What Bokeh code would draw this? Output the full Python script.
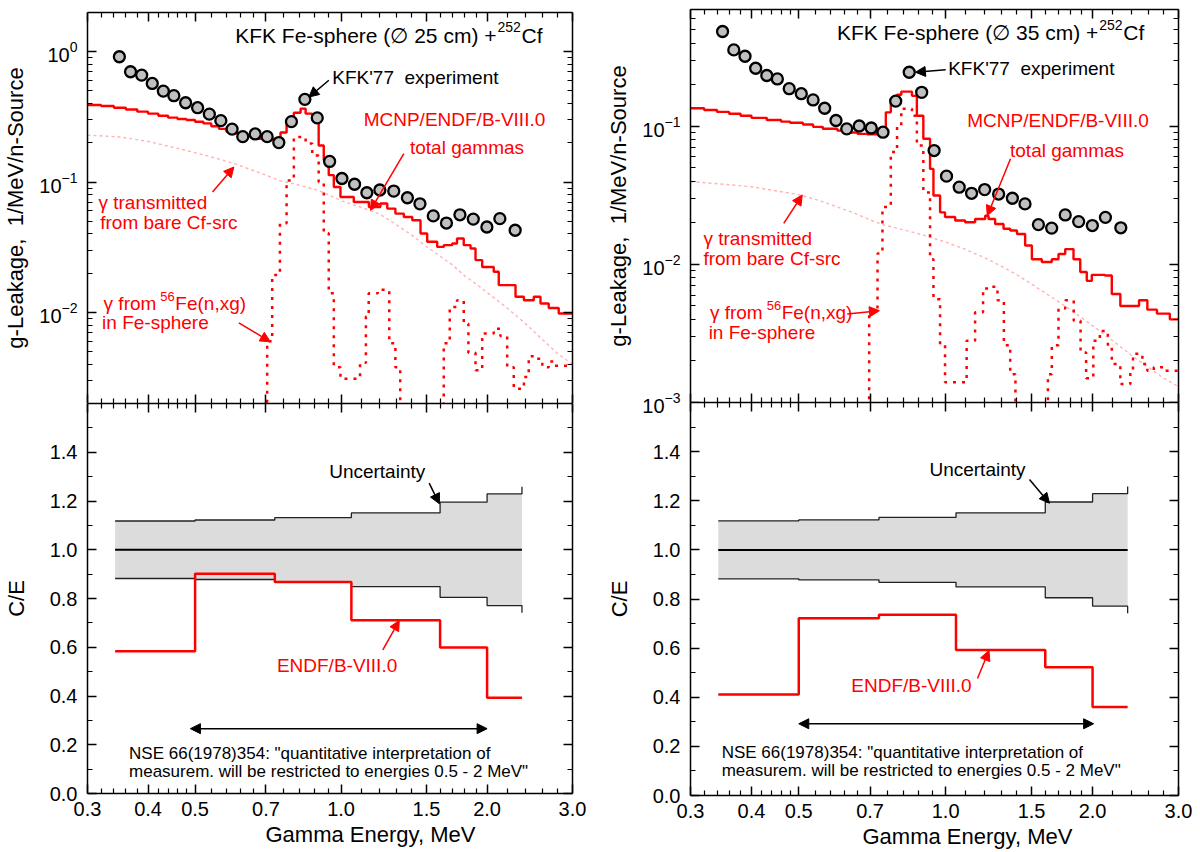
import math
from bokeh.plotting import figure
from bokeh.layouts import row, column
from bokeh.models import (LogAxis, LinearAxis, FixedTicker, PrintfTickFormatter,
                          Label, Arrow, NormalHead, Title)
from bokeh.embed import file_html
from bokeh.resources import INLINE

FONT = "Liberation Sans"
RED = "#ff0000"

# ---------------- data ----------------
# experimental points (KFK'77)
E_EXP = [0.349, 0.368, 0.388, 0.408, 0.430, 0.452, 0.478, 0.506, 0.535, 0.565,
         0.596, 0.627, 0.665, 0.704, 0.744, 0.790, 0.842, 0.893, 0.947, 1.004,
         1.066, 1.130, 1.202, 1.284, 1.370, 1.454, 1.549, 1.649, 1.758, 1.873,
         1.998, 2.125, 2.285]
EXP_25 = [0.915, 0.702, 0.662, 0.571, 0.499, 0.460, 0.406, 0.372, 0.332, 0.296,
          0.255, 0.223, 0.234, 0.223, 0.201, 0.291, 0.431, 0.311, 0.144, 0.1065,
          0.0962, 0.0828, 0.0869, 0.0853, 0.0758, 0.0681, 0.0550, 0.0485, 0.0561, 0.0520,
          0.0452, 0.0524, 0.0427]
EXP_35 = [0.485, 0.357, 0.321, 0.263, 0.233, 0.220, 0.187, 0.172, 0.155, 0.135,
          0.110, 0.0957, 0.1004, 0.0971, 0.0905, 0.152, 0.246, 0.176, 0.0667, 0.0435,
          0.0362, 0.0327, 0.0348, 0.0323, 0.0301, 0.0274, 0.0194, 0.0183, 0.0228, 0.0204,
          0.0191, 0.0219, 0.0184]

# MCNP total gammas, 25 cm sphere (bin edges, bin values)
TOT25_EDGES = [0.30, 0.32, 0.34, 0.36, 0.38, 0.40, 0.42, 0.44, 0.46, 0.48,
               0.50, 0.52, 0.54, 0.56, 0.58, 0.60, 0.63, 0.66, 0.69, 0.72,
               0.75, 0.772, 0.799, 0.825, 0.845, 0.872, 0.899, 0.921, 0.943, 0.966,
               0.997, 1.062, 1.141, 1.205, 1.245, 1.294, 1.347, 1.402, 1.458, 1.505,
               1.578, 1.628, 1.695, 1.734, 1.79, 1.849, 1.893, 1.954, 2.064, 2.114,
               2.289, 2.382, 2.496, 2.577, 2.68, 2.81, 3.0]
TOT25_VALS = [0.390, 0.383, 0.372, 0.360, 0.347, 0.335, 0.323, 0.312, 0.305, 0.299,
              0.290, 0.282, 0.268, 0.256, 0.244, 0.237, 0.225, 0.215, 0.210, 0.212,
              0.240, 0.300, 0.340, 0.366, 0.335, 0.297, 0.191, 0.147, 0.113, 0.0917,
              0.0769, 0.0704, 0.0644, 0.0684, 0.0626, 0.0573, 0.0540, 0.0510, 0.0403, 0.0348,
              0.0318, 0.0328, 0.0338, 0.0369, 0.0328, 0.0309, 0.0252, 0.0223, 0.0205, 0.0162,
              0.0132, 0.0124, 0.0132, 0.0117, 0.0108, 0.0098]

# gammas from 56Fe(n,xg), 25 cm sphere
FE25_EDGES = [0.672, 0.704, 0.721, 0.748, 0.772, 0.799, 0.825, 0.845, 0.872, 0.899,
              0.921, 0.943, 0.966, 0.997, 1.094, 1.125, 1.14, 1.19, 1.257, 1.294,
              1.324, 1.628, 1.675, 1.734, 1.79, 1.83, 1.893, 1.954, 2.064, 2.13,
              2.20, 2.27, 2.382, 2.437, 2.53, 2.60, 2.68, 2.76, 3.0]
FE25_VALS = [0.0001, 0.0060, 0.0194, 0.0483, 0.103, 0.222, 0.222, 0.198, 0.160, 0.100,
             0.0405, 0.014, 0.0038, 0.0031, 0.0041, 0.0093, 0.014, 0.0149, 0.0058, 0.0038,
             0.0001, 0.0058, 0.011, 0.0124, 0.0082, 0.0049, 0.0036, 0.0069, 0.0075, 0.0066,
             0.0038, 0.0026, 0.0032, 0.0046, 0.0044, 0.0038, 0.0042, 0.0039]

# MCNP total gammas, 35 cm sphere
TOT35_EDGES = [0.30, 0.32, 0.34, 0.36, 0.38, 0.40, 0.43, 0.46, 0.48, 0.51,
               0.535, 0.56, 0.60, 0.63, 0.66, 0.69, 0.725, 0.754, 0.772, 0.795,
               0.811, 0.853, 0.873, 0.90, 0.929, 0.944, 0.974, 0.997, 1.046, 1.096,
               1.149, 1.205, 1.224, 1.263, 1.314, 1.356, 1.40, 1.455, 1.502, 1.574,
               1.65, 1.703, 1.758, 1.828, 1.887, 1.946, 1.993, 2.12, 2.19, 2.28,
               2.49, 2.59, 2.71, 2.88, 3.0]
TOT35_VALS = [0.135, 0.131, 0.127, 0.123, 0.119, 0.115, 0.111, 0.108, 0.106, 0.103,
              0.099, 0.096, 0.093, 0.090, 0.088, 0.0875, 0.091, 0.126, 0.158, 0.169,
              0.178, 0.166, 0.119, 0.0811, 0.0491, 0.0315, 0.0238, 0.022, 0.0208, 0.0202,
              0.0213, 0.0225, 0.0213, 0.0196, 0.0181, 0.0176, 0.0166, 0.0137, 0.0109, 0.0104,
              0.0109, 0.0119, 0.0129, 0.0109, 0.0088, 0.0076, 0.0084, 0.0083, 0.0061, 0.0050,
              0.0055, 0.0047, 0.0044, 0.0040]

# gammas from 56Fe(n,xg), 35 cm sphere
FE35_EDGES = [0.66, 0.697, 0.725, 0.742, 0.772, 0.795, 0.811, 0.853, 0.873, 0.90,
              0.929, 0.944, 0.974, 0.997, 1.104, 1.149, 1.193, 1.24, 1.277, 1.316,
              1.356, 1.39, 1.62, 1.65, 1.703, 1.758, 1.83, 1.89, 1.94, 2.007,
              2.07, 2.15, 2.19, 2.28, 2.39, 2.42, 2.53, 2.59, 2.67, 2.79, 3.0]
FE35_VALS = [0.0001, 0.0045, 0.012, 0.026, 0.065, 0.101, 0.134, 0.119, 0.0724, 0.0332,
             0.0109, 0.0056, 0.0026, 0.0014, 0.0028, 0.0045, 0.0067, 0.0069, 0.0055, 0.0026,
             0.0016, 0.0001, 0.0016, 0.0026, 0.0048, 0.0055, 0.0039, 0.0023, 0.0015, 0.0028,
             0.0033, 0.0025, 0.0019, 0.00136, 0.0017, 0.00225, 0.0019, 0.0017, 0.0018, 0.0017]

# gammas transmitted from bare Cf source
CF_E = [0.30, 0.35, 0.40, 0.45, 0.50, 0.55, 0.60, 0.65, 0.70, 0.75,
        0.80, 0.90, 1.0, 1.1, 1.2, 1.3, 1.4, 1.5, 1.6, 1.7,
        1.8, 1.9, 2.0, 2.2, 2.4, 2.6, 2.8, 3.0]
CF_25 = [0.229, 0.222, 0.205, 0.185, 0.168, 0.153, 0.139, 0.125, 0.113, 0.102,
         0.097, 0.086, 0.072, 0.064, 0.057, 0.047, 0.039, 0.032, 0.027, 0.023,
         0.019, 0.0165, 0.0142, 0.0108, 0.0082, 0.0062, 0.0048, 0.0040]
CF_35 = [0.0398, 0.038, 0.0365, 0.034, 0.032, 0.029, 0.026, 0.0235, 0.021, 0.0192,
         0.0182, 0.0163, 0.0145, 0.0128, 0.0112, 0.0097, 0.0084, 0.0072, 0.0062, 0.0054,
         0.0047, 0.0041, 0.0036, 0.0028, 0.0022, 0.0018, 0.0015, 0.0013]

# C/E panel
CE_EDGES = [0.342, 0.5, 0.73, 1.05, 1.6, 2.0, 2.36]
UNC = [0.118, 0.122, 0.132, 0.151, 0.195, 0.229]
UNC_END = 0.258
CE_25 = [0.584, 0.902, 0.868, 0.711, 0.599, 0.393]
CE_35 = [0.411, 0.722, 0.7355, 0.592, 0.522, 0.360]

X_TICKS = [0.3, 0.4, 0.5, 0.7, 1.0, 1.5, 2.0, 3.0]
X_MINOR = [0.32, 0.34, 0.36, 0.38, 0.42, 0.44, 0.46, 0.48, 0.54, 0.58, 0.62, 0.66,
           0.76, 0.82, 0.88, 0.94, 1.1, 1.2, 1.3, 1.4, 1.6, 1.7, 1.8, 1.9,
           2.2, 2.4, 2.6, 2.8]
CE_TICKS = [0.0, 0.2, 0.4, 0.6, 0.8, 1.0, 1.2, 1.4]
CE_MINOR = [0.1, 0.3, 0.5, 0.7, 0.9, 1.1, 1.3, 1.5]


# ---------------- helpers ----------------
def hist_xy(edges, vals):
    xs, ys = [], []
    for i, v in enumerate(vals):
        xs += [edges[i], edges[i + 1]]
        ys += [v, v]
    return xs, ys


def log_minors(lo, hi):
    out = []
    for k in range(-5, 2):
        for m in range(2, 10):
            v = m * 10.0 ** k
            if lo < v < hi:
                out.append(v)
    return out


def style_axis(ax, show_labels, fs="20px", standoff=10):
    ax.axis_line_color = "black"
    ax.axis_line_width = 1.5
    ax.major_tick_line_color = "black"
    ax.minor_tick_line_color = "black"
    ax.major_tick_line_width = 1.5
    ax.minor_tick_line_width = 1.2
    ax.major_tick_in = 9
    ax.major_tick_out = 0
    ax.minor_tick_in = 5
    ax.minor_tick_out = 0
    if show_labels:
        ax.major_label_text_font = FONT
        ax.major_label_text_font_size = fs
        ax.major_label_text_color = "black"
        ax.major_label_standoff = standoff
    else:
        ax.major_label_text_color = None
        ax.major_label_text_alpha = 0
        ax.major_label_standoff = 0


def axis_title(ax, text, standoff):
    ax.axis_label = text
    ax.axis_label_text_font = FONT
    ax.axis_label_text_font_size = "22px"
    ax.axis_label_text_font_style = "normal"
    ax.axis_label_text_color = "black"
    ax.axis_label_standoff = standoff


def text(p, x, y, s, color="black", size="19px", align="left", xo=0, yo=0):
    p.add_layout(Label(x=x, y=y, text=s, text_color=color, text_font=FONT,
                       text_font_size=size, text_align=align, text_baseline="middle",
                       x_offset=xo, y_offset=yo))


def arrow(p, x0, y0, x1, y1, color, both=False):
    head = dict(size=10, fill_color=color, line_color=color, line_width=1)
    p.add_layout(Arrow(x_start=x0, y_start=y0, x_end=x1, y_end=y1, line_color=color,
                       line_width=1.5, end=NormalHead(**head),
                       start=NormalHead(**head) if both else None))


def make_top(y_range, y_major, fw, fh, bl, br, bt, bb, exp, tot_e, tot_v, fe_e, fe_v, cf_v):
    p = figure(x_axis_type="log", y_axis_type="log", x_range=(0.3, 3.0), y_range=y_range,
               frame_width=fw, frame_height=fh, min_border_left=bl, min_border_right=br,
               min_border_top=bt, min_border_bottom=bb, title=None, toolbar_location=None,
               output_backend="svg", outline_line_color=None,
               background_fill_color="white", border_fill_color="white")
    p.grid.visible = False
    xt = FixedTicker(ticks=X_TICKS, minor_ticks=X_MINOR)
    yt = FixedTicker(ticks=y_major, minor_ticks=log_minors(*y_range))
    bx = p.below[0]
    bx.ticker = xt
    style_axis(bx, False)
    ly = p.left[0]
    ly.ticker = yt
    style_axis(ly, True, "20px", 10)
    axis_title(ly, "g-Leakage,\u00a0 1/MeV/n-Source", 8)
    top = LogAxis(ticker=xt)
    style_axis(top, False)
    p.add_layout(top, "above")
    ry = LogAxis(ticker=yt)
    style_axis(ry, False)
    p.add_layout(ry, "right")

    p.line(CF_E, cf_v, line_color="#ffb4b4", line_width=1.4, line_dash="3 3")
    xs, ys = hist_xy(fe_e, fe_v)
    p.line(xs, ys, line_color=RED, line_width=2.5, line_dash="3 6")
    xs, ys = hist_xy(tot_e, tot_v)
    p.line(xs, ys, line_color=RED, line_width=2.4)
    p.scatter(E_EXP, exp, marker="circle", size=11, fill_color="#c0c0c0",
              line_color="black", line_width=2.3)
    return p


def make_bottom(fw, fh, bl, br, bb, ce, title_offset):
    p = figure(x_axis_type="log", x_range=(0.3, 3.0), y_range=(0.0, 1.6),
               frame_width=fw, frame_height=fh, min_border_left=bl, min_border_right=br,
               min_border_top=0, min_border_bottom=bb, title=None, toolbar_location=None,
               output_backend="svg", outline_line_color=None,
               background_fill_color="white", border_fill_color=None)
    p.grid.visible = False
    xt = FixedTicker(ticks=X_TICKS, minor_ticks=X_MINOR)
    yt = FixedTicker(ticks=CE_TICKS, minor_ticks=CE_MINOR)
    bx = p.below[0]
    bx.ticker = xt
    bx.formatter = PrintfTickFormatter(format="%.1f")
    style_axis(bx, True, "20px", 8)
    ly = p.left[0]
    ly.ticker = yt
    ly.formatter = PrintfTickFormatter(format="%.1f")
    style_axis(ly, True, "20px", 10)
    axis_title(ly, "C/E", 18)
    top = LogAxis(ticker=xt)
    style_axis(top, False)
    p.add_layout(top, "above")
    ry = LinearAxis(ticker=yt)
    style_axis(ry, False)
    p.add_layout(ry, "right")
    p.add_layout(Title(text="Gamma Energy, MeV", align="left", offset=title_offset,
                       text_font=FONT, text_font_size="22px", text_font_style="normal",
                       text_color="black", standoff=2), "below")

    lo = [1 - u for u in UNC]
    hi = [1 + u for u in UNC]
    p.varea_step(x=CE_EDGES, y1=lo + [lo[-1]], y2=hi + [hi[-1]], step_mode="after",
                 fill_color="#dcdcdc")
    xs, ys = hist_xy(CE_EDGES, hi)
    p.line(xs + [CE_EDGES[-1]], ys + [1 + UNC_END], line_color="#222222", line_width=1.3)
    xs, ys = hist_xy(CE_EDGES, lo)
    p.line(xs + [CE_EDGES[-1]], ys + [1 - UNC_END], line_color="#222222", line_width=1.3)
    p.line([CE_EDGES[0], CE_EDGES[-1]], [1.0, 1.0], line_color="black", line_width=2)
    xs, ys = hist_xy(CE_EDGES, ce)
    p.line(xs, ys, line_color=RED, line_width=2.5)
    return p


# ---------------- left column (25 cm) ----------------
tl = make_top((0.002, 2.0), [0.01, 0.1, 1.0], 485, 391, 87, 28, 12, 0,
              EXP_25, TOT25_EDGES, TOT25_VALS, FE25_EDGES, FE25_VALS, CF_25)
text(tl, 2.101, 1.333, "KFK Fe-sphere (\u2205 25 cm) +", size="21px", align="right", xo=-1)
text(tl, 2.101, 1.333, "252", size="14px", yo=8)
text(tl, 2.101, 1.333, "Cf", size="21px", xo=24)
text(tl, 0.959, 0.630, "KFK'77\u00a0 experiment")
arrow(tl, 0.9436, 0.604, 0.858, 0.449, "black")
text(tl, 1.713, 0.303, "MCNP/ENDF/B-VIII.0", color=RED, align="center")
text(tl, 1.818, 0.1847, "total gammas", color=RED, align="center")
arrow(tl, 1.347, 0.1653, 1.15, 0.0608, RED)
text(tl, 0.316, 0.070, "\u03b3 transmitted", color=RED)
text(tl, 0.3187, 0.0492, "from bare Cf-src", color=RED)
arrow(tl, 0.5432, 0.0839, 0.6011, 0.1305, RED)
text(tl, 0.424, 0.0118, "\u03b3 from", color=RED, align="right", xo=-4)
text(tl, 0.424, 0.0118, "56", color=RED, size="13px", yo=7)
text(tl, 0.424, 0.0118, "Fe(n,xg)", color=RED, xo=15)
text(tl, 0.3215, 0.0084, "in Fe-sphere", color=RED)
arrow(tl, 0.6154, 0.00832, 0.7146, 0.00595, RED)

bl = make_bottom(485, 390, 87, 28, 59, CE_25, 178)
text(bl, 1.187, 1.321, "Uncertainty", align="center")
arrow(bl, 1.519, 1.273, 1.595, 1.1885, "black")
text(bl, 0.981, 0.525, "ENDF/B-VIII.0", color=RED, align="center")
arrow(bl, 1.219, 0.5895, 1.318, 0.7097, RED)
arrow(bl, 0.489, 0.266, 2.0, 0.266, "black", both=True)
text(bl, 0.3654, 0.163, "NSE 66(1978)354: \"quantitative interpretation of", size="17px")
text(bl, 0.3654, 0.0903, "measurem. will be restricted to energies 0.5 - 2 MeV\"", size="17px")

# ---------------- right column (35 cm) ----------------
tr = make_top((0.001, 0.7), [0.001, 0.01, 0.1], 488, 393, 90, 22, 9, 18,
              EXP_35, TOT35_EDGES, TOT35_VALS, FE35_EDGES, FE35_VALS, CF_35)
text(tr, 2.064, 0.4765, "KFK Fe-sphere (\u2205 35 cm) +", size="21px", align="right", xo=-1)
text(tr, 2.064, 0.4765, "252", size="14px", yo=8)
text(tr, 2.064, 0.4765, "Cf", size="21px", xo=24)
text(tr, 1.012, 0.2617, "KFK'77\u00a0 experiment")
arrow(tr, 1.0, 0.2561, 0.867, 0.2459, "black")
text(tr, 1.699, 0.1099, "MCNP/ENDF/B-VIII.0", color=RED, align="center")
text(tr, 1.773, 0.0667, "total gammas", color=RED, align="center")
arrow(tr, 1.358, 0.0581, 1.217, 0.0225, RED)
text(tr, 0.3188, 0.0153, "\u03b3 transmitted", color=RED)
text(tr, 0.3188, 0.01101, "from bare Cf-src", color=RED)
arrow(tr, 0.4658, 0.0198, 0.5083, 0.0318, RED)
text(tr, 0.4298, 0.00448, "\u03b3 from", color=RED, align="right", xo=-4)
text(tr, 0.4298, 0.00448, "56", color=RED, size="13px", yo=7)
text(tr, 0.4298, 0.00448, "Fe(n,xg)", color=RED, xo=15)
text(tr, 0.3268, 0.0032, "in Fe-sphere", color=RED)
arrow(tr, 0.6285, 0.00438, 0.7317, 0.00462, RED)

br = make_bottom(488, 393, 90, 22, 57, CE_35, 172)
br.margin = (-18, 0, 0, 0)
text(br, 1.162, 1.327, "Uncertainty", align="center")
arrow(br, 1.485, 1.2866, 1.632, 1.19, "black")
text(br, 0.851, 0.448, "ENDF/B-VIII.0", color=RED, align="center")
arrow(br, 1.162, 0.4764, 1.227, 0.5904, RED)
arrow(br, 0.5, 0.292, 2.01, 0.292, "black", both=True)
text(br, 0.3475, 0.174, "NSE 66(1978)354: \"quantitative interpretation of", size="17px")
text(br, 0.3475, 0.1018, "measurem. will be restricted to energies 0.5 - 2 MeV\"", size="17px")

layout = row(column(tl, bl), column(tr, br))
open("out.html", "w").write(file_html(layout, INLINE))
